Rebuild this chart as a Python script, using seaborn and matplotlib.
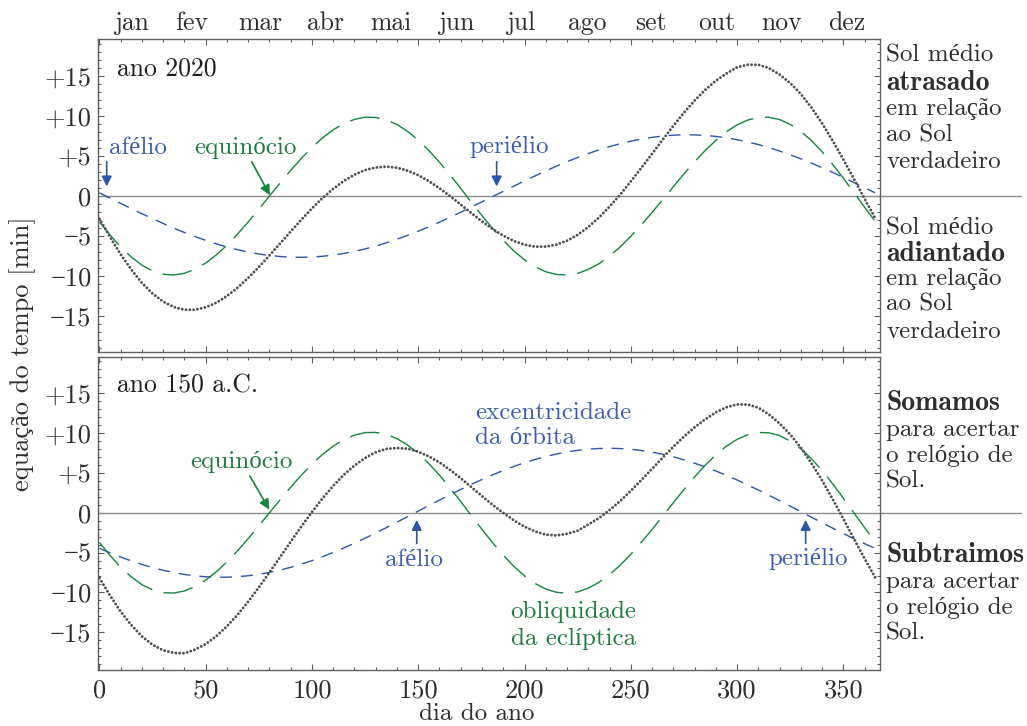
import matplotlib
matplotlib.use("Agg")
import matplotlib.pyplot as plt
import matplotlib.transforms as mtransforms
from matplotlib.ticker import FixedLocator, FixedFormatter, MultipleLocator
import pandas as pd
import seaborn as sns

# ---------------- data ----------------
days = list(range(0, 361, 5)) + [365]

# ano 2020
top_ecc = [0.40, -0.26, -0.92, -1.57, -2.21, -2.83, -3.43, -4.01, -4.56, -5.07,
           -5.54, -5.98, -6.37, -6.71, -7.00, -7.24, -7.43, -7.56, -7.64, -7.66,
           -7.62, -7.53, -7.38, -7.18, -6.92, -6.61, -6.26, -5.85, -5.40, -4.92,
           -4.40, -3.84, -3.26, -2.65, -2.02, -1.37, -0.72, -0.07, 0.59, 1.24,
           1.89, 2.52, 3.14, 3.73, 4.29, 4.82, 5.31, 5.77, 6.18, 6.54,
           6.86, 7.13, 7.34, 7.50, 7.61, 7.66, 7.65, 7.58, 7.46, 7.28,
           7.05, 6.77, 6.44, 6.06, 5.63, 5.16, 4.66, 4.12, 3.55, 2.96,
           2.34, 1.70, 1.05, 0.40]
top_obl = [-3.24, -4.88, -6.38, -7.63, -8.66, -9.36, -9.78, -9.87, -9.66, -9.15,
           -8.37, -7.36, -6.13, -4.75, -3.23, -1.64, 0.00, 1.63, 3.21, 4.71,
           6.08, 7.29, 8.29, 9.07, 9.59, 9.86, 9.83, 9.53, 8.94, 8.09,
           7.01, 5.70, 4.23, 2.63, 0.95, -0.76, -2.45, -4.05, -5.54, -6.86,
           -7.97, -8.85, -9.46, -9.81, -9.87, -9.67, -9.18, -8.47, -7.51, -6.37,
           -5.04, -3.60, -2.06, -0.46, 1.16, 2.76, 4.27, 5.69, 6.95, 8.04,
           8.89, 9.50, 9.83, 9.85, 9.57, 8.97, 8.11, 6.94, 5.56, 3.96,
           2.25, 0.44, -1.38, -3.16]
top_eot = [-2.84, -5.14, -7.30, -9.20, -10.87, -12.19, -13.21, -13.88, -14.22, -14.22,
           -13.91, -13.34, -12.50, -11.46, -10.23, -8.88, -7.43, -5.93, -4.43, -2.95,
           -1.54, -0.24, 0.91, 1.89, 2.67, 3.25, 3.57, 3.68, 3.54, 3.17,
           2.61, 1.86, 0.97, -0.02, -1.07, -2.13, -3.17, -4.12, -4.95, -5.62,
           -6.08, -6.33, -6.32, -6.08, -5.58, -4.85, -3.87, -2.70, -1.33, 0.17,
           1.82, 3.53, 5.28, 7.04, 8.77, 10.42, 11.92, 13.27, 14.41, 15.32,
           16.10, 16.42, 16.42, 16.00, 15.20, 14.13, 12.77, 11.06, 9.11, 6.92,
           4.59, 2.14, -0.33, -2.76]

# ano 150 a.C.
bot_ecc = [-4.47, -5.04, -5.57, -6.05, -6.49, -6.89, -7.23, -7.52, -7.75, -7.92,
           -8.04, -8.09, -8.09, -8.03, -7.91, -7.73, -7.49, -7.20, -6.85, -6.45,
           -6.01, -5.52, -4.98, -4.42, -3.82, -3.19, -2.54, -1.87, -1.18, -0.49,
           0.21, 0.90, 1.59, 2.27, 2.93, 3.57, 4.18, 4.76, 5.31, 5.82,
           6.28, 6.69, 7.06, 7.38, 7.64, 7.84, 7.99, 8.07, 8.10, 8.06,
           7.97, 7.82, 7.61, 7.35, 7.03, 6.65, 6.23, 5.76, 5.25, 4.70,
           4.12, 3.50, 2.86, 2.20, 1.52, 0.83, 0.14, -0.56, -1.25, -1.93,
           -2.60, -3.25, -3.88, -4.47]
bot_obl = [-3.74, -5.37, -6.85, -8.06, -9.04, -9.69, -10.05, -10.08, -9.82, -9.27,
           -8.45, -7.41, -6.16, -4.77, -3.24, -1.64, 0.00, 1.63, 3.22, 4.73,
           6.10, 7.34, 8.36, 9.19, 9.75, 10.07, 10.09, 9.85, 9.31, 8.51,
           7.46, 6.18, 4.72, 3.11, 1.41, -0.35, -2.09, -3.77, -5.33, -6.73,
           -7.93, -8.89, -9.58, -9.99, -10.11, -9.94, -9.47, -8.75, -7.77, -6.59,
           -5.22, -3.71, -2.10, -0.43, 1.25, 2.91, 4.49, 5.96, 7.26, 8.36,
           9.21, 9.79, 10.08, 10.04, 9.70, 9.01, 8.05, 6.79, 5.32, 3.64,
           1.85, -0.01, -1.86, -3.65]
bot_eot = [-8.21, -10.41, -12.42, -14.11, -15.53, -16.58, -17.28, -17.60, -17.65, -17.19,
           -16.49, -15.50, -14.25, -12.80, -11.15, -9.37, -7.49, -5.57, -3.63, -1.72,
           0.09, 1.82, 3.38, 4.77, 5.93, 6.88, 7.60, 8.02, 8.13, 8.05,
           7.67, 7.08, 6.31, 5.38, 4.34, 3.22, 2.09, 0.99, -0.02, -0.95,
           -1.75, -2.35, -2.75, -2.85, -2.65, -2.25, -1.48, -0.68, 0.33, 1.47,
           2.75, 4.11, 5.51, 6.92, 8.28, 9.56, 10.72, 11.72, 12.60, 13.25,
           13.60, 13.60, 13.20, 12.35, 11.22, 9.84, 8.19, 6.23, 4.07, 1.71,
           -0.75, -3.26, -5.74, -8.12]

month_labels = ["jan", "fev", "mar", "abr", "mai", "jun", "jul", "ago", "set",
                "out", "nov", "dez"]
month_pos = [15.3, 43.4, 75.8, 106.5, 137.3, 167.9, 198.4, 229.3, 259.5,
             290.3, 321.0, 351.8]
ytick_vals = [-15, -10, -5, 0, 5, 10, 15]
ytick_labels = ["\u221215", "\u221210", "\u22125", "0", "+5", "+10", "+15"]
xtick_vals = [0, 50, 100, 150, 200, 250, 300, 350]
xtick_labels = ["0", "50", "100", "150", "200", "250", "300", "350"]

# ---------------- style ----------------
sns.set_style("ticks")
REG = ["cmr10", "Liberation Serif", "DejaVu Serif"]
BOLD = ["cmb10", "Liberation Serif", "DejaVu Serif"]
plt.rcParams["font.family"] = REG
plt.rcParams["axes.formatter.use_mathtext"] = True
plt.rcParams["axes.unicode_minus"] = True

BLUE = "#2f56a6"
BLUE_T = "#3d5eb0"
GREEN = "#17843f"
GREEN_T = "#237b40"
DOTS = "#505050"
TXT = "#2e2e2e"
SPINE = "#606060"
ZERO = "#8c8c8c"
FS = 18

fig = plt.figure(figsize=(10.27, 7.26), dpi=100)
ax1 = fig.add_axes([0.0951, 0.51515, 0.7618, 0.43072])
ax2 = fig.add_axes([0.0951, 0.07713, 0.7618, 0.43155])

panels = [
    (ax1, top_ecc, top_obl, top_eot, (-19.5, 19.6)),
    (ax2, bot_ecc, bot_obl, bot_eot, (-19.75, 19.6)),
]

for ax, ecc, obl, eot, ylim in panels:
    df = pd.DataFrame({"dia": days, "ecc": ecc, "obl": obl, "eot": eot})
    ax.axhline(0, xmin=0, xmax=1.18, color=ZERO, lw=1.0, clip_on=False, zorder=1)
    sns.lineplot(data=df, x="dia", y="ecc", ax=ax, color=BLUE, lw=1.0,
                 linestyle=(0, (8.6, 6.4)), errorbar=None, zorder=2)
    sns.lineplot(data=df, x="dia", y="obl", ax=ax, color=GREEN, lw=1.0,
                 linestyle=(0, (21.5, 8.5)), errorbar=None, zorder=3)
    sns.lineplot(data=df, x="dia", y="eot", ax=ax, color=DOTS, lw=2.1,
                 linestyle=(0, (0.01, 1.3)), dash_capstyle="round",
                 errorbar=None, zorder=4)
    ax.set_xlim(-0.85, 367.3)
    ax.set_ylim(*ylim)
    ax.set_xlabel("")
    ax.set_ylabel("")
    ax.xaxis.set_major_locator(FixedLocator(xtick_vals))
    ax.xaxis.set_major_formatter(FixedFormatter(xtick_labels))
    ax.xaxis.set_minor_locator(MultipleLocator(10))
    ax.yaxis.set_major_locator(FixedLocator(ytick_vals))
    ax.yaxis.set_major_formatter(FixedFormatter(ytick_labels))
    ax.yaxis.set_minor_locator(MultipleLocator(1))
    ax.tick_params(which="both", direction="in", top=True, right=True,
                   color=SPINE, width=0.8, labelsize=FS + 1, labelcolor=TXT)
    ax.tick_params(which="major", length=4.5)
    ax.tick_params(which="minor", length=2.3)
    ax.tick_params(axis="y", pad=4.5)
    ax.tick_params(axis="x", pad=6)
    for sp in ax.spines.values():
        sp.set_visible(True)
        sp.set_color(SPINE)
        sp.set_linewidth(1.0)

ax1.tick_params(labelbottom=False)

# month names along the top
mtr = mtransforms.blended_transform_factory(ax1.transData, ax1.transAxes)
for pos, lab in zip(month_pos, month_labels):
    ax1.text(pos, 1.0297, lab, transform=mtr, ha="center", va="baseline",
             fontsize=FS + 0.5, color=TXT)

# panel titles
ax1.text(8.1, 15.9, "ano 2020", fontsize=FS + 0.5, color="#1e1e1e", va="center")
ax2.text(8.1, 16.0, "ano 150 a.C.", fontsize=FS + 0.5, color="#1e1e1e", va="center")

arrow_b = dict(arrowstyle="-|>", color=BLUE, lw=1.2, mutation_scale=15,
               shrinkA=0, shrinkB=0)
arrow_g = dict(arrowstyle="-|>", color=GREEN, lw=1.2, mutation_scale=15,
               shrinkA=0, shrinkB=0)

# top annotations
ax1.text(4.5, 6.0, "afélio", fontsize=FS, color=BLUE_T, ha="left", va="center")
ax1.annotate("", xy=(3.4, 1.2), xytext=(3.4, 4.3), arrowprops=arrow_b)
ax1.text(68.8, 6.0, "equinócio", fontsize=FS, color=GREEN_T, ha="center", va="center")
ax1.annotate("", xy=(80.2, 0.1), xytext=(71.6, 4.3), arrowprops=arrow_g)
ax1.text(192.9, 6.2, "periélio", fontsize=FS, color=BLUE_T, ha="center", va="center")
ax1.annotate("", xy=(186.9, 1.2), xytext=(186.9, 4.3), arrowprops=arrow_b)

# bottom annotations
ax2.text(66.9, 6.4, "equinócio", fontsize=FS, color=GREEN_T, ha="center", va="center")
ax2.annotate("", xy=(79.9, 0.4), xytext=(70.8, 4.6), arrowprops=arrow_g)
ax2.text(176.7, 12.5, "excentricidade", fontsize=FS, color=BLUE_T, ha="left", va="center")
ax2.text(176.7, 9.35, "da órbita", fontsize=FS, color=BLUE_T, ha="left", va="center")
ax2.text(148.2, -5.95, "afélio", fontsize=FS, color=BLUE_T, ha="center", va="center")
ax2.annotate("", xy=(149.3, -0.9), xytext=(149.3, -3.85), arrowprops=arrow_b)
ax2.text(193.5, -12.4, "obliquidade", fontsize=FS, color=GREEN_T, ha="left", va="center")
ax2.text(193.5, -15.8, "da eclíptica", fontsize=FS, color=GREEN_T, ha="left", va="center")
ax2.text(333.6, -5.85, "periélio", fontsize=FS, color=BLUE_T, ha="center", va="center")
ax2.annotate("", xy=(332.3, -0.9), xytext=(332.3, -3.85), arrowprops=arrow_b)


# right-hand explanatory text
def side_text(ax, lines, ys):
    tr = mtransforms.blended_transform_factory(ax.transAxes, ax.transData)
    for (s, bold), y in zip(lines, ys):
        ax.text(1.0077, y, s, transform=tr, fontsize=FS + 2 if bold else FS,
                color=TXT, ha="left", va="center", family=BOLD if bold else REG)


side_text(ax1, [("Sol médio", False), ("atrasado", True), ("em relação", False),
                ("ao Sol", False), ("verdadeiro", False)],
          [17.6, 14.16, 10.84, 7.63, 4.29])
side_text(ax1, [("Sol médio", False), ("adiantado", True), ("em relação", False),
                ("ao Sol", False), ("verdadeiro", False)],
          [-4.04, -7.25, -10.4, -13.6, -16.96])
side_text(ax2, [("Somamos", True), ("para acertar", False), ("o relógio de", False),
                ("Sol.", False)],
          [13.8, 10.4, 7.1, 3.9])
side_text(ax2, [("Subtraimos", True), ("para acertar", False), ("o relógio de", False),
                ("Sol.", False)],
          [-5.3, -8.7, -12.0, -15.15])

fig.text(0.0225, 0.513, "equação do tempo [min]", rotation=90, ha="center",
         va="center", fontsize=FS + 1, color=TXT)
fig.text(0.4645, 0.0165, "dia do ano", ha="center", va="center",
         fontsize=FS, color=TXT)

fig.savefig("out.png", dpi=100)
